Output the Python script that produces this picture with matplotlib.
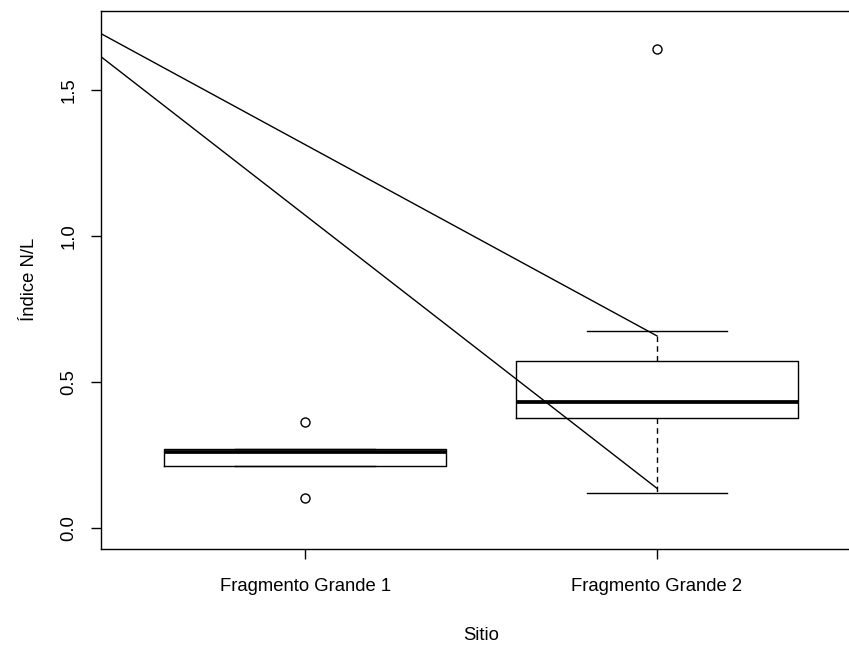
import matplotlib
matplotlib.use("Agg")
import matplotlib.pyplot as plt

# ---- data ----
categories = ["Fragmento Grande 1", "Fragmento Grande 2"]
whislo = [0.211, 0.120]
q1 = [0.211, 0.378]
med = [0.261, 0.432]
q3 = [0.271, 0.571]
whishi = [0.271, 0.674]
outliers = [[0.364, 0.102], [1.640]]

# two straight lines ending at the second group
line_x = [0.42, 2.0]
line_upper = [1.693, 0.658]
line_lower = [1.614, 0.136]

yticks = [0.0, 0.5, 1.0, 1.5]
ytick_labels = ["0.0", "0.5", "1.0", "1.5"]

plt.rcParams['font.family'] = ['Liberation Sans', 'DejaVu Sans']

W, H = 849, 647
fig = plt.figure(figsize=(W / 100, H / 100), dpi=100)
left, right, top, bottom = 101, 861, 10.7, 549
ax = fig.add_axes([left / W, (H - bottom) / H, (right - left) / W, (bottom - top) / H])

stats = []
for i in range(len(categories)):
    stats.append(dict(med=med[i], q1=q1[i], q3=q3[i], whislo=whislo[i],
                      whishi=whishi[i], fliers=outliers[i], label=categories[i]))

ax.bxp(stats, positions=[1, 2], widths=0.8, showfliers=True, patch_artist=False,
       boxprops=dict(color='black', linewidth=1.0),
       medianprops=dict(color='black', linewidth=2.7, solid_capstyle='butt'),
       whiskerprops=dict(color='black', linewidth=1.0, linestyle=(0, (4, 3))),
       capprops=dict(color='black', linewidth=1.0),
       capwidths=0.4,
       flierprops=dict(marker='o', markersize=6.5, markerfacecolor='none',
                       markeredgecolor='black', markeredgewidth=1.0))

ax.plot(line_x, line_upper, color='black', linewidth=1.0)
ax.plot(line_x, line_lower, color='black', linewidth=1.0)

ax.set_xlim(0.42, 2.58)
ax.set_ylim(-0.0719, 1.7716)

ax.set_xticks([1, 2])
ax.set_xticklabels(categories, fontsize=13.3)
ax.set_yticks(yticks)
ax.set_yticklabels(ytick_labels, fontsize=13.3, rotation=90, va='center')
ax.tick_params(axis='both', direction='out', length=7, width=1.0, color='black')
ax.tick_params(axis='x', pad=14)
ax.tick_params(axis='y', pad=10)

for s in ax.spines.values():
    s.set_linewidth(1.0)
    s.set_color('black')

ax.set_xlabel("Sitio", fontsize=13.3, labelpad=23)
ax.set_ylabel("Índice N/L", fontsize=13.3, labelpad=16)

fig.savefig("out.png", dpi=100)
